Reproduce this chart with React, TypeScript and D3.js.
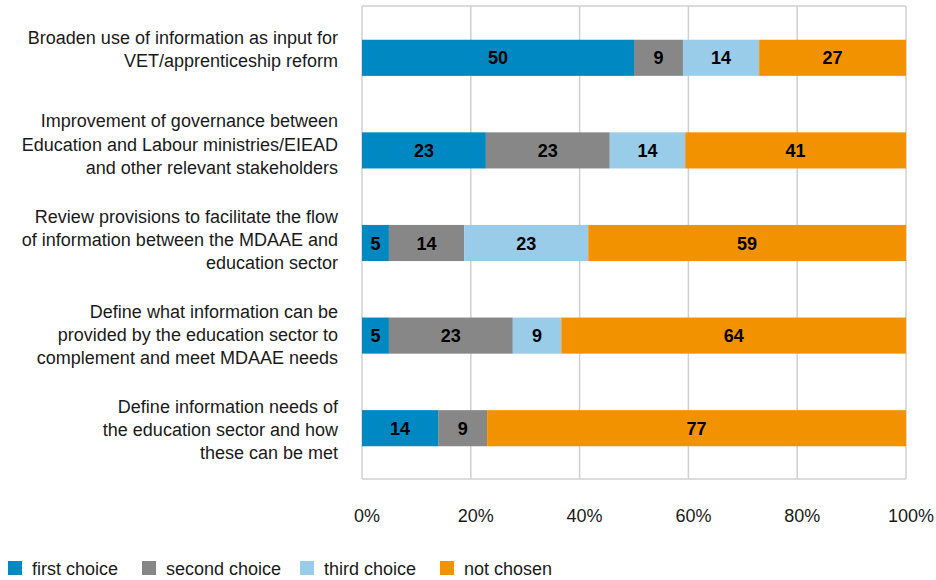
import React from "react";
import * as d3 from "d3";

const categories: string[][] = [
  ["Broaden use of information as input for", "VET/apprenticeship reform"],
  ["Improvement of governance between", "Education and Labour ministries/EIEAD", "and other relevant stakeholders"],
  ["Review provisions to facilitate the flow", "of information between the MDAAE and", "education sector"],
  ["Define what information can be", "provided by the education sector to", "complement and meet MDAAE needs"],
  ["Define information needs of", "the education sector and how", "these can be met"],
];
const seriesNames = ["first choice", "second choice", "third choice", "not chosen"];
const seriesColors = ["#0088c2", "#878787", "#99cce9", "#f39200"];
const firstChoice = [50, 23, 5, 5, 14];
const secondChoice = [9, 23, 14, 23, 9];
const thirdChoice = [14, 14, 23, 9, 0];
const notChosen = [27, 41, 59, 64, 77];
const ticks = [0, 0.2, 0.4, 0.6, 0.8, 1];

const W = 936;
const H = 580;
const FONT = "'Liberation Sans', Arial, Helvetica, sans-serif";

export default function App() {
  const left = 362, right = 906, top = 6, bottom = 479;
  const x = d3.scaleLinear().domain([0, 1]).range([left, right]);
  const y = d3
    .scaleBand<number>()
    .domain(d3.range(categories.length))
    .range([11.5, 474.5])
    .paddingInner(0.61)
    .paddingOuter(0.305);
  const labelY = d3.scaleLinear().domain([0, categories.length - 1]).range([55.5, 436]);
  const rows = categories.map((_, i) => {
    const vals = [firstChoice[i], secondChoice[i], thirdChoice[i], notChosen[i]];
    const total = d3.sum(vals);
    let acc = 0;
    return vals.map((v, k) => {
      const x0 = acc / total;
      acc += v;
      return { v, k, x0, x1: acc / total };
    });
  });
  const legendX = [8, 142, 300, 440];
  return (
    <svg width={W} height={H} style={{ position: "absolute", left: 0, top: 0, fontFamily: FONT }}>
      <rect x={0} y={0} width={W} height={H} fill="#fff" />
      {ticks.map((t) => (
        <line key={t} x1={x(t)} x2={x(t)} y1={top} y2={bottom} stroke="#d0d0d0" strokeWidth={1.5} />
      ))}
      <line x1={left} x2={right} y1={top} y2={top} stroke="#d0d0d0" strokeWidth={1.5} />
      <line x1={left} x2={right} y1={bottom} y2={bottom} stroke="#d0d0d0" strokeWidth={1.5} />
      {rows.map((segs, i) => {
        const yy = y(i)!;
        const bh = y.bandwidth();
        return (
          <g key={i}>
            {segs.map((s) =>
              s.v > 0 ? (
                <g key={s.k}>
                  <rect x={x(s.x0)} y={yy} width={x(s.x1) - x(s.x0)} height={bh} fill={seriesColors[s.k]} />
                  <text
                    x={(x(s.x0) + x(s.x1)) / 2}
                    y={yy + bh / 2 + 6.5}
                    textAnchor="middle"
                    fontWeight="bold"
                    fontSize={18}
                    fill="#000"
                  >
                    {s.v}
                  </text>
                </g>
              ) : null
            )}
          </g>
        );
      })}
      {categories.map((lines, i) => {
        const c = labelY(i);
        const n = lines.length;
        return (
          <text key={i} textAnchor="end" fontSize={18} fill="#1a1a1a">
            {lines.map((l, j) => (
              <tspan key={j} x={338} y={c + (j - (n - 1) / 2) * 23.2}>
                {l}
              </tspan>
            ))}
          </text>
        );
      })}
      {ticks.map((t) => (
        <text key={t} x={x(t) + 5} y={522} textAnchor="middle" fontSize={18} fill="#1a1a1a">
          {d3.format(".0%")(t)}
        </text>
      ))}
      {seriesNames.map((n, k) => (
        <g key={n}>
          <rect x={legendX[k]} y={561} width={14} height={14} fill={seriesColors[k]} />
          <text x={legendX[k] + 24} y={575} fontSize={18} fill="#1a1a1a">
            {n}
          </text>
        </g>
      ))}
    </svg>
  );
}
